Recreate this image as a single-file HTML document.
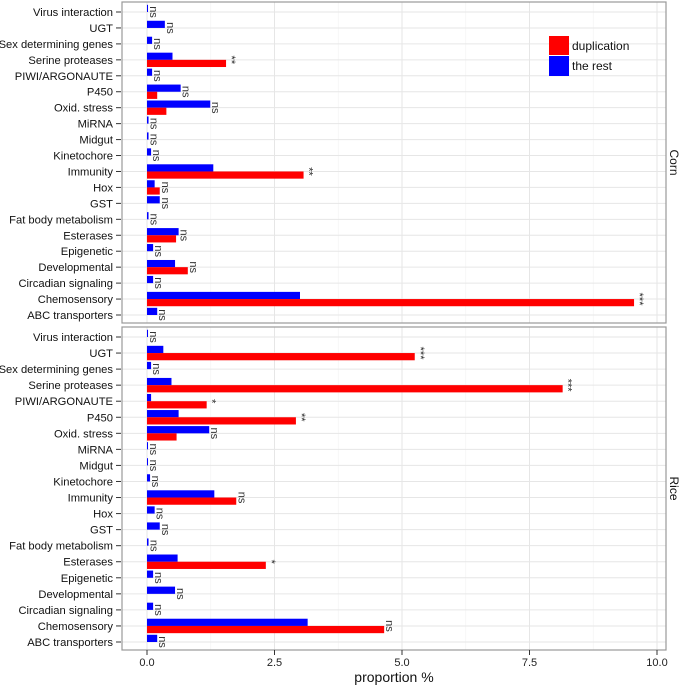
<!DOCTYPE html>
<html><head><meta charset="utf-8"><style>
body{margin:0;background:#fff}
svg{display:block;font-family:"Liberation Sans",sans-serif}
</style></head><body>
<svg id="chart" width="681" height="685" viewBox="0 0 681 685" xmlns="http://www.w3.org/2000/svg"></svg>
<script>
const categories=["Virus interaction","UGT","Sex determining genes","Serine proteases","PIWI/ARGONAUTE","P450","Oxid. stress","MiRNA","Midgut","Kinetochore","Immunity","Hox","GST","Fat body metabolism","Esterases","Epigenetic","Developmental","Circadian signaling","Chemosensory","ABC transporters"];
const cornRest=[0.02,0.35,0.1,0.5,0.1,0.66,1.24,0.03,0.03,0.08,1.3,0.15,0.25,0.03,0.62,0.12,0.55,0.12,3.0,0.2];
const cornDup=[0,0,0,1.55,0,0.2,0.38,0,0,0,3.07,0.25,0,0,0.57,0,0.8,0,9.55,0];
const cornSig=["ns","ns","ns","**","ns","ns","ns","ns","ns","ns","**","ns","ns","ns","ns","ns","ns","ns","***","ns"];
const riceRest=[0.02,0.32,0.08,0.48,0.08,0.62,1.22,0.02,0.02,0.06,1.32,0.15,0.25,0.03,0.6,0.12,0.55,0.12,3.15,0.2];
const riceDup=[0,5.25,0,8.15,1.17,2.92,0.58,0,0,0,1.75,0,0,0,2.33,0,0,0,4.65,0];
const riceSig=["ns","***","ns","***","*","**","ns","ns","ns","ns","ns","ns","ns","ns","*","ns","ns","ns","ns","ns"];
const xTicks=[0,2.5,5,7.5,10];
const xTickLabels=["0.0","2.5","5.0","7.5","10.0"];
</script>
<script>
const NS="http://www.w3.org/2000/svg";
const svg=document.getElementById('chart');
const X0=122,X1=666,V0=147,V10=657;
const xs=v=>V0+(V10-V0)*v/10;
function mk(tag,attrs,parent){const e=document.createElementNS(NS,tag);for(const k in attrs)e.setAttribute(k,attrs[k]);(parent||svg).appendChild(e);return e;}
const panels=[{name:"Corn",top:2,bot:323,rest:cornRest,dup:cornDup,sig:cornSig},{name:"Rice",top:327,bot:650,rest:riceRest,dup:riceDup,sig:riceSig}];
panels.forEach(p=>{
  const g=mk('g',{});
  
  
  const n=categories.length;
  const first=p.top+10,last=p.bot-8;
  const step=(last-first)/(n-1);
  const ys=i=>first+i*step;
  for(let v=1.25;v<10;v+=2.5){mk('line',{x1:xs(v),x2:xs(v),y1:p.top,y2:p.bot,stroke:'#f3f3f3','stroke-width':0.6},g);}
  xTicks.forEach(v=>{const l=mk('line',{x1:xs(v),x2:xs(v),y1:p.top,y2:p.bot,stroke:'#e6e6e6','stroke-width':1},g);
    });
  categories.forEach((c,i)=>{
    const y=ys(i);
    mk('line',{x1:X0,x2:X1,y1:y,y2:y,stroke:'#e6e6e6','stroke-width':1},g);
    const t=mk('text',{x:113,y:y+4,'text-anchor':'end','font-size':11.2,fill:'#111'},g);t.textContent=c;
    
    mk('line',{x1:116,x2:121,y1:y,y2:y,stroke:'#333','stroke-width':1},g);
    const bh=step*0.45;
    const b=mk('rect',{x:xs(0),y:y-bh,width:Math.max(xs(p.rest[i])-xs(0),0.8),height:bh,fill:'#0000ff'},g);
    
    if(p.dup[i]>0){const r=mk('rect',{x:xs(0),y:y,width:xs(p.dup[i])-xs(0),height:bh,fill:'#ff0000'},g);
      }
    const mx=Math.max(p.rest[i],p.dup[i]);
    const sx=xs(mx)+2;
    const s=mk('text',{x:0,y:0,'font-size':p.sig[i]==='ns'?11:11,fill:'#333','text-anchor':'middle',transform:`translate(${sx},${y}) rotate(90)`},g);
    s.textContent=p.sig[i];
    
  });
  mk('rect',{x:X0,y:p.top,width:X1-X0,height:p.bot-p.top,fill:'none',stroke:'#999','stroke-width':1.2},g);
  const st=mk('text',{x:0,y:0,'font-size':12,fill:'#111','text-anchor':'middle',transform:`translate(670,${(p.top+p.bot)/2}) rotate(90)`},g);
  st.textContent=p.name;
  
});
xTicks.forEach((v,i)=>{
  mk('line',{x1:xs(v),x2:xs(v),y1:650,y2:655,stroke:'#333','stroke-width':1});
  const t=mk('text',{x:xs(v),y:666,'text-anchor':'middle','font-size':11,fill:'#222'});t.textContent=xTickLabels[i];
  
});
const xt=mk('text',{x:(X0+X1)/2,y:682,'text-anchor':'middle','font-size':14,fill:'#111'});xt.textContent='proportion %';

const lg=mk('g',{});

mk('rect',{x:549,y:36,width:20,height:19,fill:'#ff0000'},lg);
mk('rect',{x:549,y:56,width:20,height:20,fill:'#0000ff'},lg);
const l1=mk('text',{x:572,y:50,'font-size':12,fill:'#111'},lg);l1.textContent='duplication';

const l2=mk('text',{x:572,y:70,'font-size':12,fill:'#111'},lg);l2.textContent='the rest';

</script>
</body></html>
